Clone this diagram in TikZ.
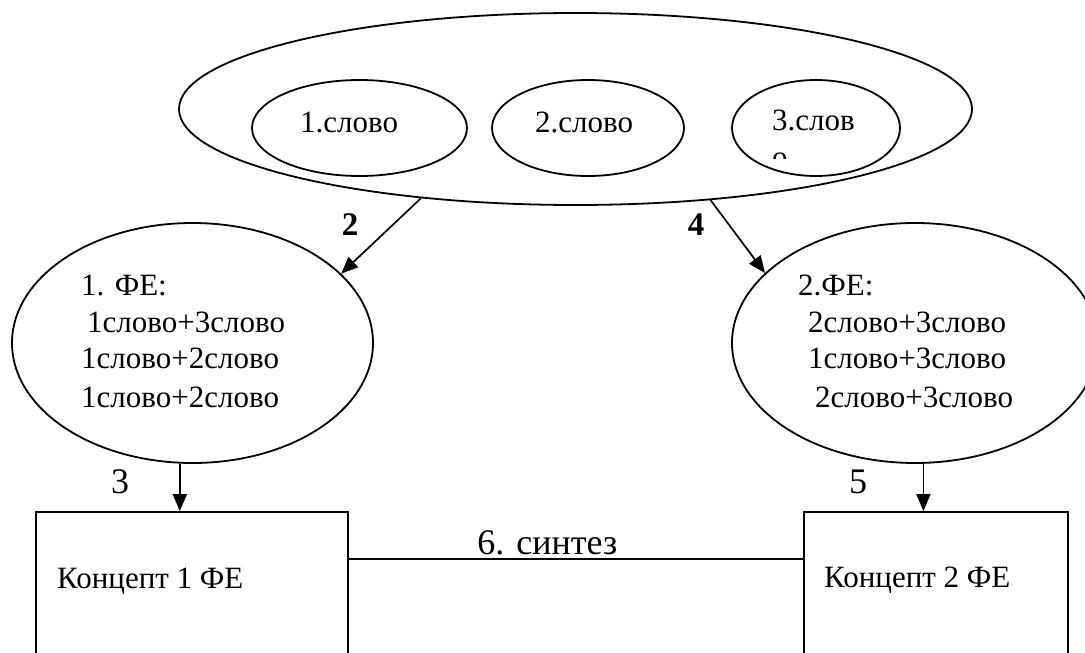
\documentclass[tikz,border=0pt]{standalone}
\usepackage{fontspec}
\setmainfont{Liberation Serif}
\usetikzlibrary{shapes.geometric,arrows.meta}
\begin{document}
\begin{tikzpicture}[x=1pt,y=-1pt,
  oval/.style={draw,ellipse,line width=1.8pt,inner sep=0pt},
  box/.style={draw,rectangle,line width=1.8pt,inner sep=0pt},
  txt/.style={anchor=base west,inner sep=0pt,font=\fontsize{31}{37}\selectfont},
  num/.style={anchor=base,inner sep=0pt,font=\fontsize{33}{38}\selectfont\bfseries},
  numr/.style={anchor=base,inner sep=0pt,font=\fontsize{36}{42}\selectfont},
  arr/.style={-{Triangle[length=17pt,width=14pt]},line width=1.7pt},
  link/.style={line width=1.7pt}]
\useasboundingbox (0,0) rectangle (1085,653);
\clip (0,0) rectangle (1085,653);

% word set
\node[oval,minimum width=793pt,minimum height=192pt] (words) at (575.5,109) {};
\node[oval,minimum width=215pt,minimum height=96pt] (w1) at (359.5,128) {};
\node[oval,minimum width=192pt,minimum height=96pt] (w2) at (588,128) {};
\node[oval,minimum width=168pt,minimum height=96pt] (w3) at (816,128) {};
\node[txt] (w1t) at (300,132) {1.слово};
\node[txt] (w2t) at (535,132) {2.слово};
\node[txt] (w3t) at (772,130) {3.слов};
\begin{scope}
  \clip (740,100) rectangle (900,158.5);
  \node[txt] (w3u) at (772,167) {о};
\end{scope}

% phraseological units
\node[oval,minimum width=361pt,minimum height=240pt] (fe1) at (192.5,343) {};
\node[txt] (fe1a) at (81,295) {1. ФЕ:};
\node[txt] (fe1b) at (87,332) {1слово+3слово};
\node[txt] (fe1c) at (81,368) {1слово+2слово};
\node[txt] (fe1d) at (81,407) {1слово+2слово};

\node[oval,minimum width=366pt,minimum height=240pt] (fe2) at (915,343) {};
\node[txt] (fe2a) at (798,295) {2.ФЕ:};
\node[txt] (fe2b) at (808,332) {2слово+3слово};
\node[txt] (fe2c) at (808,368) {1слово+3слово};
\node[txt] (fe2d) at (815,407) {2слово+3слово};

% concepts
\node[box,minimum width=312pt,minimum height=200pt] (k1) at (192,612) {};
\node[box,minimum width=264pt,minimum height=200pt] (k2) at (936,612) {};
\node[txt] (k1t) at (57,588) {Концепт 1 ФЕ};
\node[txt] (k2t) at (824,587) {Концепт 2 ФЕ};

% connectors
\draw[arr] (words.-150.2) -- (fe1.25);
\draw[arr] (words.-34.3) -- (fe2.155);
\draw[arr] (fe1.-96) -- (fe1.-96 |- k1.north);
\draw[arr] (fe2.-86) -- (fe2.-86 |- k2.north);
\draw[link] ([yshift=-48pt]k1.north east) --
  node[pos=0.437,anchor=base,yshift=5pt,inner sep=0pt,font=\fontsize{36}{42}\selectfont] (synth) {6. синтез}
  ([yshift=-48pt]k2.north west);

% step numbers
\node[num] (n2) at (350,235) {2};
\node[num] (n4) at (696,235) {4};
\node[numr] (n3) at (120,493) {3};
\node[numr] (n5) at (858,493) {5};
\end{tikzpicture}
\end{document}
